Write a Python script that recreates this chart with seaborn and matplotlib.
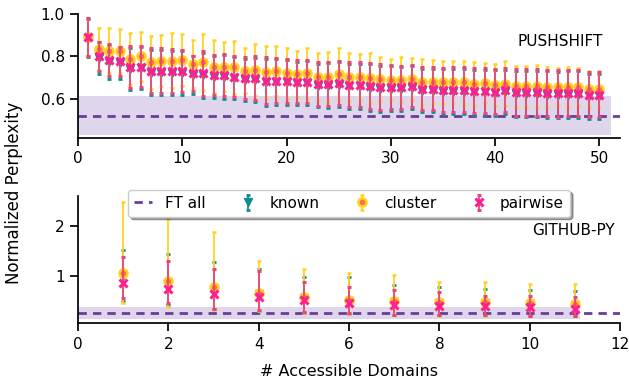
import numpy as np
import matplotlib
matplotlib.use("Agg")
import matplotlib.pyplot as plt
import seaborn as sns

# ---------------- data ----------------
push_x = list(range(1, 51))
push_known = [0.885, 0.792, 0.775, 0.768, 0.741, 0.744, 0.724, 0.724, 0.722, 0.722,
              0.712, 0.712, 0.703, 0.703, 0.697, 0.689, 0.689, 0.678, 0.678, 0.678,
              0.673, 0.673, 0.662, 0.662, 0.667, 0.658, 0.658, 0.653, 0.647, 0.647,
              0.647, 0.652, 0.639, 0.639, 0.634, 0.634, 0.634, 0.630, 0.630, 0.626,
              0.632, 0.622, 0.622, 0.622, 0.619, 0.617, 0.619, 0.619, 0.611, 0.611]
push_known_err = [0.09, 0.075, 0.08, 0.074, 0.10, 0.098, 0.108, 0.108, 0.105, 0.102,
                  0.088, 0.106, 0.098, 0.102, 0.10, 0.10, 0.105, 0.112, 0.108, 0.105,
                  0.102, 0.104, 0.103, 0.105, 0.106, 0.107, 0.108, 0.109, 0.11, 0.106,
                  0.104, 0.102, 0.103, 0.103, 0.105, 0.107, 0.107, 0.107, 0.108, 0.109,
                  0.105, 0.11, 0.11, 0.11, 0.11, 0.11, 0.11, 0.11, 0.108, 0.108]
push_cluster = [0.89, 0.835, 0.827, 0.825, 0.788, 0.80, 0.773, 0.779, 0.78, 0.783,
                0.765, 0.773, 0.752, 0.752, 0.749, 0.733, 0.736, 0.726, 0.729, 0.72,
                0.718, 0.72, 0.705, 0.705, 0.716, 0.702, 0.702, 0.697, 0.693, 0.69,
                0.69, 0.693, 0.681, 0.681, 0.678, 0.678, 0.678, 0.67, 0.674, 0.666,
                0.67, 0.658, 0.658, 0.66, 0.655, 0.655, 0.655, 0.655, 0.647, 0.647]
push_cluster_err = [0.09, 0.10, 0.106, 0.105, 0.121, 0.115, 0.125, 0.121, 0.13, 0.125,
                    0.113, 0.133, 0.126, 0.115, 0.126, 0.108, 0.121, 0.124, 0.118, 0.121,
                    0.109, 0.121, 0.113, 0.118, 0.122, 0.113, 0.11, 0.118, 0.102, 0.098,
                    0.106, 0.10, 0.109, 0.103, 0.102, 0.098, 0.102, 0.103, 0.094, 0.10,
                    0.106, 0.099, 0.099, 0.10, 0.094, 0.09, 0.094, 0.09, 0.085, 0.085]
push_pair = [0.89, 0.80, 0.783, 0.776, 0.749, 0.752, 0.732, 0.732, 0.73, 0.73,
             0.72, 0.72, 0.711, 0.711, 0.705, 0.697, 0.697, 0.686, 0.686, 0.686,
             0.681, 0.681, 0.67, 0.67, 0.675, 0.666, 0.666, 0.661, 0.655, 0.655,
             0.655, 0.66, 0.647, 0.647, 0.642, 0.642, 0.642, 0.638, 0.638, 0.634,
             0.64, 0.63, 0.63, 0.63, 0.627, 0.625, 0.627, 0.627, 0.619, 0.619]
push_pair_err = [0.09, 0.069, 0.077, 0.069, 0.10, 0.095, 0.106, 0.106, 0.103, 0.099,
                 0.084, 0.105, 0.095, 0.10, 0.098, 0.098, 0.104, 0.112, 0.107, 0.104,
                 0.10, 0.103, 0.102, 0.104, 0.105, 0.106, 0.107, 0.108, 0.109, 0.105,
                 0.102, 0.10, 0.102, 0.102, 0.104, 0.106, 0.106, 0.106, 0.107, 0.108,
                 0.104, 0.11, 0.11, 0.11, 0.11, 0.11, 0.11, 0.11, 0.107, 0.107]
push_ft, push_ft_std = 0.52, 0.092

gh_x = list(range(1, 12))
gh_known = [1.00, 0.86, 0.74, 0.64, 0.55, 0.50, 0.46, 0.44, 0.44, 0.42, 0.41]
gh_known_lo = [0.50, 0.40, 0.32, 0.29, 0.25, 0.22, 0.21, 0.20, 0.20, 0.19, 0.18]
gh_known_hi = [1.52, 1.44, 1.28, 1.13, 0.97, 0.97, 0.81, 0.78, 0.73, 0.71, 0.70]
gh_cluster = [1.05, 0.89, 0.77, 0.66, 0.57, 0.52, 0.48, 0.46, 0.46, 0.44, 0.43]
gh_cluster_lo = [0.44, 0.36, 0.30, 0.28, 0.24, 0.22, 0.20, 0.19, 0.19, 0.18, 0.18]
gh_cluster_hi = [2.47, 2.13, 1.87, 1.30, 1.13, 1.06, 1.01, 0.88, 0.87, 0.83, 0.83]
gh_pair = [0.86, 0.73, 0.63, 0.57, 0.52, 0.44, 0.41, 0.39, 0.39, 0.36, 0.32]
gh_pair_lo = [0.55, 0.44, 0.33, 0.31, 0.26, 0.24, 0.21, 0.21, 0.21, 0.19, 0.19]
gh_pair_hi = [1.38, 1.30, 1.13, 1.09, 0.88, 0.78, 0.71, 0.68, 0.59, 0.59, 0.57]
gh_ft, gh_ft_std = 0.245, 0.125

# ---------------- style ----------------
sns.set_theme(style="ticks", context="notebook")
plt.rcParams["font.family"] = ["DejaVu Sans"]
plt.rcParams.update({
    "text.color": "black", "axes.labelcolor": "black",
    "xtick.color": "black", "ytick.color": "black",
    "axes.edgecolor": "black",
})

C_FT = "#6a3d9a"
C_BAND = "#e0d6eb"
C_KNOWN = "#0e8f8c"
C_CLUS_EDGE = "#ffd21f"
C_CLUS_FACE = "#ff7043"
C_PAIR = "#ff1f8e"
C_PAIR_ERR = "#e8457a"

fig = plt.figure(figsize=(6.29, 3.85), dpi=100)
ax1 = fig.add_axes([0.124, 0.6416, 0.862, 0.322])
ax2 = fig.add_axes([0.124, 0.160, 0.862, 0.331])

eb_kw = dict(linestyle="none", elinewidth=1.3, capsize=1.2, capthick=2.0)


def draw(ax, x, k, kerr, c, cerr, p, perr, ft, ftstd, band_end):
    ax.fill_between([0, band_end], ft - ftstd, ft + ftstd, color=C_BAND, lw=0, zorder=0)
    ax.axhline(ft, color=C_FT, ls=(0, (3, 2.2)), lw=2, zorder=1, label="FT all")
    ax.errorbar(x, k, yerr=kerr, marker="v", ms=6, color=C_KNOWN, mfc=C_KNOWN,
                mec=C_KNOWN, ecolor=C_KNOWN, label="known", zorder=2, **eb_kw)
    ax.errorbar(x, c, yerr=cerr, marker="o", ms=5.8, mfc=C_CLUS_FACE, mec=C_CLUS_EDGE,
                mew=1.8, ecolor=C_CLUS_EDGE, color=C_CLUS_EDGE, label="cluster",
                zorder=3, **eb_kw)
    ax.errorbar(x, p, yerr=perr, marker="x", ms=6, mew=2.2, color=C_PAIR,
                ecolor=C_PAIR_ERR, label="pairwise", zorder=4, **eb_kw)


draw(ax1, push_x, push_known, push_known_err, push_cluster, push_cluster_err,
     push_pair, push_pair_err, push_ft, push_ft_std, 51.1)

gk = np.array(gh_known)
gc = np.array(gh_cluster)
gp = np.array(gh_pair)
draw(ax2, gh_x, gk, [gk - np.array(gh_known_lo), np.array(gh_known_hi) - gk],
     gc, [gc - np.array(gh_cluster_lo), np.array(gh_cluster_hi) - gc],
     gp, [gp - np.array(gh_pair_lo), np.array(gh_pair_hi) - gp],
     gh_ft, gh_ft_std, 11.1)

ax1.set_xlim(0, 52)
ax1.set_ylim(0.415, 1.0)
ax1.set_xticks([0, 10, 20, 30, 40, 50])
ax1.set_yticks([0.6, 0.8, 1.0])
ax1.text(0.968, 0.78, "PUSHSHIFT", transform=ax1.transAxes, ha="right",
         va="center", fontsize=11)

ax2.set_xlim(0, 12)
ax2.set_ylim(0.04, 2.6)
ax2.set_xticks([0, 2, 4, 6, 8, 10, 12])
ax2.set_yticks([1, 2])
ax2.text(0.99, 0.727, "GITHUB-PY", transform=ax2.transAxes, ha="right",
         va="center", fontsize=11)
ax2.set_xlabel("# Accessible Domains", fontsize=11.5, labelpad=9)

fig.text(0.023, 0.5, "Normalized Perplexity", rotation=90, ha="center",
         va="center", fontsize=12)

for ax in (ax1, ax2):
    ax.tick_params(labelsize=11)
    sns.despine(ax=ax)

h, l = ax2.get_legend_handles_labels()
ax2.legend(h, l, loc="upper center", bbox_to_anchor=(0.5, 1.11), ncol=4,
           frameon=True, shadow=True, fontsize=11, handlelength=1.2,
           columnspacing=2.2, borderpad=0.4, fancybox=True)

fig.savefig("out.png", dpi=100)
